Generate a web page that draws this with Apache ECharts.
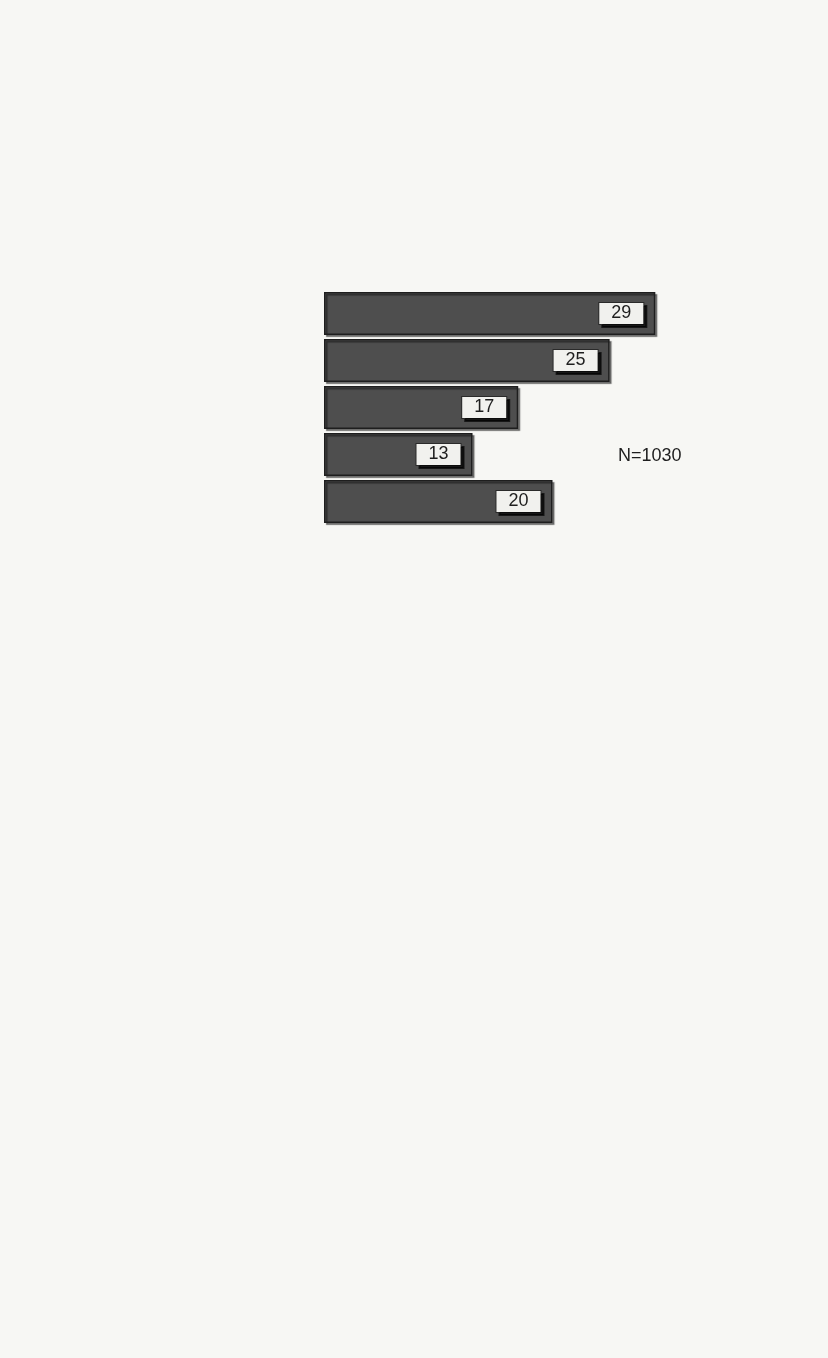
<!DOCTYPE html>
<html>
<head>
<meta charset="utf-8">
<script src="https://cdn.jsdelivr.net/npm/echarts@6/dist/echarts.min.js"></script>
<style>
html,body{margin:0;padding:0;background:#f7f7f4;}
#chart{width:828px;height:1358px;}
</style>
</head>
<body>
<div id="chart"></div>
<script>
var categories = ['1', '2', '3', '4', '5'];
var values = [29, 25, 17, 13, 20];
var noteText = 'N=1030';

var chart = echarts.init(document.getElementById('chart'));
chart.setOption({
  backgroundColor: '#f7f7f4',
  animation: false,
  title: {
    text: noteText,
    left: 613,
    top: 442,
    textStyle: { fontFamily: 'Liberation Sans, Arial, sans-serif', fontSize: 18, fontWeight: 'normal', color: '#1e1e1e' }
  },
  grid: { left: 324, top: 290, height: 235, width: 457 },
  xAxis: {
    type: 'value', min: 0, max: 40,
    show: false
  },
  yAxis: {
    type: 'category', data: categories, inverse: true,
    show: false
  },
  series: [{
    type: 'bar',
    data: values,
    barWidth: 43,
    itemStyle: {
      color: '#4e4e4e',
      borderColor: '#1e1e1e',
      borderWidth: 1.5,
      shadowColor: 'rgba(0,0,0,0.45)',
      shadowOffsetX: 2,
      shadowOffsetY: 2,
      shadowBlur: 1
    },
    label: {
      show: true,
      position: 'insideRight',
      distance: 12,
      fontFamily: 'Liberation Sans, Arial, sans-serif',
      fontSize: 18,
      color: '#1e1e1e',
      backgroundColor: '#f1f1ee',
      borderColor: '#2a2a2a',
      borderWidth: 1,
      padding: [2, 12, 1, 12],
      shadowColor: 'rgba(0,0,0,0.7)',
      shadowOffsetX: 3,
      shadowOffsetY: 3
    }
  }]
});
</script>
</body>
</html>
